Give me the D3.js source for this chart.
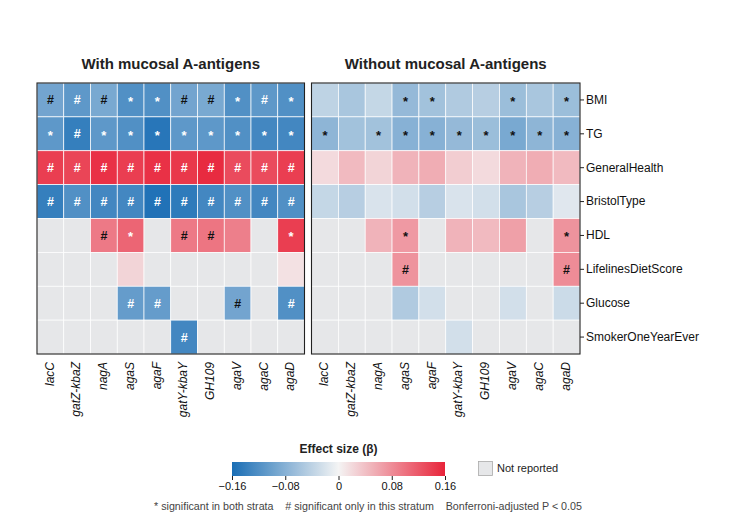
<!DOCTYPE html>
<html>
<head>
<meta charset="utf-8">
<script src="https://cdn.jsdelivr.net/npm/d3@7"></script>
<style>
  body { margin: 0; background: #fff; }
  text { font-family: "Liberation Sans", Arial, sans-serif; }
</style>
</head>
<body>
<div id="chart"></div>
<script>
var genes = ["lacC", "gatZ-kbaZ", "nagA", "agaS", "agaF", "gatY-kbaY", "GH109", "agaV", "agaC", "agaD"];
var traits = ["BMI", "TG", "GeneralHealth", "BristolType", "HDL", "LifelinesDietScore", "Glucose", "SmokerOneYearEver"];

// effect sizes, with mucosal A-antigens (null = not reported)
var betaWith = [
  [-0.095, -0.11, -0.09, -0.12, -0.12, -0.095, -0.09, -0.12, -0.11, -0.12],
  [-0.11, -0.14, -0.11, -0.12, -0.15, -0.11, -0.11, -0.12, -0.13, -0.13],
  [0.14, 0.135, 0.15, 0.14, 0.15, 0.145, 0.155, 0.13, 0.13, 0.14],
  [-0.14, -0.12, -0.13, -0.13, -0.155, -0.145, -0.13, -0.12, -0.13, -0.12],
  [null, null, 0.095, 0.11, null, 0.095, 0.098, 0.09, null, 0.14],
  [null, null, null, 0.025, null, null, null, null, null, 0.015],
  [null, null, null, -0.105, -0.105, null, null, -0.095, null, -0.12],
  [null, null, null, null, null, -0.13, null, null, null, null]
];
var sigWith = [
  ["#", "#", "#", "*", "*", "#", "#", "*", "#", "*"],
  ["*", "#", "*", "*", "*", "*", "*", "*", "*", "*"],
  ["#", "#", "#", "#", "#", "#", "#", "#", "#", "#"],
  ["#", "#", "#", "#", "#", "#", "#", "#", "#", "#"],
  ["", "", "#", "*", "", "#", "#", "", "", "*"],
  ["", "", "", "", "", "", "", "", "", ""],
  ["", "", "", "#", "#", "", "", "#", "", "#"],
  ["", "", "", "", "", "#", "", "", "", ""]
];

// effect sizes, without mucosal A-antigens
var betaWithout = [
  [-0.04, -0.055, -0.035, -0.07, -0.06, -0.05, -0.045, -0.065, -0.055, -0.065],
  [-0.075, -0.06, -0.06, -0.08, -0.08, -0.07, -0.065, -0.09, -0.075, -0.08],
  [0.02, 0.045, 0.025, 0.05, 0.055, 0.03, 0.02, 0.05, 0.055, 0.045],
  [-0.035, -0.045, -0.02, -0.025, -0.045, -0.02, -0.025, -0.055, -0.045, -0.015],
  [null, null, 0.05, 0.07, null, 0.05, 0.045, 0.065, null, 0.075],
  [null, null, null, 0.075, null, null, null, null, null, 0.08],
  [null, null, null, -0.05, -0.025, null, null, -0.025, null, -0.03],
  [null, null, null, null, null, -0.025, null, null, null, null]
];
var sigWithout = [
  ["", "", "", "*", "*", "", "", "*", "", "*"],
  ["*", "", "*", "*", "*", "*", "*", "*", "*", "*"],
  ["", "", "", "", "", "", "", "", "", ""],
  ["", "", "", "", "", "", "", "", "", ""],
  ["", "", "", "*", "", "", "", "", "", "*"],
  ["", "", "", "#", "", "", "", "", "", "#"],
  ["", "", "", "", "", "", "", "", "", ""],
  ["", "", "", "", "", "", "", "", "", ""]
];

var panelTitles = ["With mucosal A-antigens", "Without mucosal A-antigens"];
var legendTicks = [-0.16, -0.08, 0, 0.08, 0.16];

var w = 736, h = 520;
var yTop = 83, yBottom = 354;
var naColor = "#e6e7e9";

var svg = d3.select("#chart").append("svg")
    .attr("width", w)
    .attr("height", h);

var color = d3.scaleLinear()
    .domain([-0.16, 0, 0.16])
    .range(["#1a6eb5", "#f4f4f4", "#e8243a"])
    .clamp(true);

var yScale = d3.scaleBand().domain(traits).range([yTop, yBottom]);

function drawPanel(x0, x1, beta, sig, title, showRight) {
    var xScale = d3.scaleBand().domain(genes).range([x0, x1]);
    var g = svg.append("g");

    var cells = [];
    traits.forEach(function (t, i) {
        genes.forEach(function (gn, j) {
            cells.push({ trait: t, gene: gn, v: beta[i][j], s: sig[i][j] });
        });
    });

    g.selectAll("rect.cell")
        .data(cells)
        .enter().append("rect")
        .attr("class", "cell")
        .attr("x", function (d) { return xScale(d.gene); })
        .attr("y", function (d) { return yScale(d.trait); })
        .attr("width", xScale.bandwidth())
        .attr("height", yScale.bandwidth())
        .attr("fill", function (d) { return d.v === null ? naColor : color(d.v); })
        .attr("stroke", "#fff")
        .attr("stroke-width", 0.7);

    g.selectAll("text.sig")
        .data(cells.filter(function (d) { return d.s !== ""; }))
        .enter().append("text")
        .attr("class", "sig")
        .attr("x", function (d) { return xScale(d.gene) + xScale.bandwidth() / 2; })
        .attr("y", function (d) { return yScale(d.trait) + yScale.bandwidth() / 2 + (d.s === "*" ? 6 : 4.5); })
        .attr("text-anchor", "middle")
        .attr("font-size", function (d) { return d.s === "*" ? "13px" : "12.5px"; })
        .attr("font-weight", "bold")
        .attr("fill", function (d) { return Math.abs(d.v) >= 0.1 ? "#fff" : "#111"; })
        .text(function (d) { return d.s; });

    g.append("rect")
        .attr("x", x0).attr("y", yTop)
        .attr("width", x1 - x0).attr("height", yBottom - yTop)
        .attr("fill", "none")
        .attr("stroke", "#222")
        .attr("stroke-width", 1.1);

    g.append("text")
        .attr("x", (x0 + x1) / 2)
        .attr("y", 69)
        .attr("text-anchor", "middle")
        .attr("font-size", "15px")
        .attr("font-weight", "bold")
        .attr("fill", "#222")
        .text(title);

    g.selectAll("text.gene")
        .data(genes)
        .enter().append("text")
        .attr("class", "gene")
        .attr("transform", function (d) {
            return "translate(" + (xScale(d) + xScale.bandwidth() / 2 - 1) + "," + (yBottom + 8) + ") rotate(-90)";
        })
        .attr("dy", "0.35em")
        .attr("text-anchor", "end")
        .attr("font-size", "12px")
        .attr("font-style", "italic")
        .attr("fill", "#111")
        .text(function (d) { return d; });

    if (showRight) {
        var yAxis = d3.axisRight(yScale).tickSize(4).tickPadding(2);
        var ax = svg.append("g")
            .attr("transform", "translate(" + x1 + ",0)")
            .call(yAxis);
        ax.select(".domain").remove();
        ax.selectAll("line").attr("stroke", "#222");
        ax.selectAll("text")
            .attr("font-size", "12px")
            .attr("fill", "#111")
            .attr("font-family", "Liberation Sans, Arial, sans-serif");
    }
}

drawPanel(37, 304.5, betaWith, sigWith, panelTitles[0], false);
drawPanel(311.5, 580, betaWithout, sigWithout, panelTitles[1], true);

// colour bar legend
var lx0 = 232, lx1 = 445, ly = 462, lh = 14;
var defs = svg.append("defs");
var grad = defs.append("linearGradient").attr("id", "cbar")
    .attr("x1", "0%").attr("x2", "100%").attr("y1", "0%").attr("y2", "0%");
d3.range(0, 1.0001, 0.05).forEach(function (t) {
    grad.append("stop")
        .attr("offset", (t * 100) + "%")
        .attr("stop-color", color(-0.16 + 0.32 * t));
});
svg.append("rect")
    .attr("x", lx0).attr("y", ly)
    .attr("width", lx1 - lx0).attr("height", lh)
    .attr("fill", "url(#cbar)");

var lScale = d3.scaleLinear().domain([-0.16, 0.16]).range([lx0, lx1]);
var lAxis = d3.axisBottom(lScale)
    .tickValues(legendTicks)
    .tickSize(4)
    .tickPadding(2)
    .tickFormat(function (d) { return d === 0 ? "0" : d3.format(".2f")(d).replace("-", "\u2212"); });
var lg = svg.append("g")
    .attr("transform", "translate(0," + (ly + lh) + ")")
    .call(lAxis);
lg.select(".domain").remove();
lg.selectAll("line").attr("stroke", "#222");
lg.selectAll("text")
    .attr("font-size", "11px")
    .attr("fill", "#111")
    .attr("font-family", "Liberation Sans, Arial, sans-serif");

svg.append("text")
    .attr("x", (lx0 + lx1) / 2)
    .attr("y", 453)
    .attr("text-anchor", "middle")
    .attr("font-size", "12px")
    .attr("font-weight", "bold")
    .attr("fill", "#222")
    .text("Effect size (\u03b2)");

svg.append("rect")
    .attr("x", 478.5).attr("y", 461.5)
    .attr("width", 14).attr("height", 14)
    .attr("fill", naColor)
    .attr("stroke", "#aaa")
    .attr("stroke-width", 0.8);
svg.append("text")
    .attr("x", 497)
    .attr("y", 472)
    .attr("font-size", "11px")
    .attr("fill", "#222")
    .text("Not reported");

svg.append("text")
    .attr("x", 368)
    .attr("y", 510)
    .attr("text-anchor", "middle")
    .attr("font-size", "10.7px")
    .attr("fill", "#444")
    .style("white-space", "pre")
    .text("* significant in both strata    # significant only in this stratum    Bonferroni-adjusted P < 0.05");
</script>
</body>
</html>
